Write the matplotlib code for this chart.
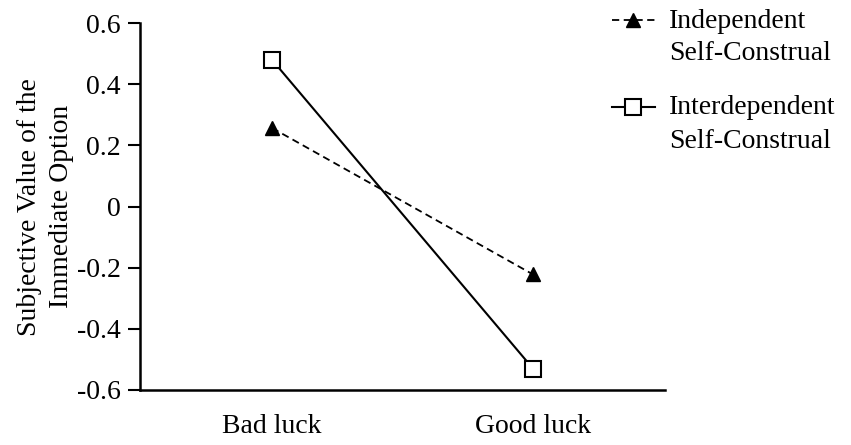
import matplotlib
matplotlib.use("Agg")
import matplotlib.pyplot as plt
from matplotlib.lines import Line2D

categories = ["Bad luck", "Good luck"]
independent = [0.257, -0.222]
interdependent = [0.48, -0.53]
yticks = [-0.6, -0.4, -0.2, 0, 0.2, 0.4, 0.6]
yticklabels = ["-0.6", "-0.4", "-0.2", "0", "0.2", "0.4", "0.6"]
legend_labels = ["Independent\nSelf-Construal", "Interdependent\nSelf-Construal"]

plt.rcParams['font.family'] = ['Liberation Serif', 'DejaVu Serif']
FS = 20

fig = plt.figure(figsize=(8.51, 4.45), dpi=100)
ax = fig.add_axes([0.1645, 0.1236, 0.617, 0.8244])

dash = (0, (4, 2.5))
x = list(range(len(categories)))
ax.plot(x, independent, linestyle=dash, color='black', lw=1.3,
        marker='^', markersize=9.5, markerfacecolor='black', markeredgecolor='black')
ax.plot(x, interdependent, linestyle='-', color='black', lw=1.5,
        marker='s', markersize=12, markerfacecolor='white', markeredgecolor='black',
        markeredgewidth=1.5)

ax.set_xlim(-0.506, 1.506)
ax.set_ylim(-0.6, 0.6)
ax.set_yticks(yticks)
ax.set_yticklabels(yticklabels, fontsize=FS)
ax.set_xticks(x)
ax.set_xticklabels(categories, fontsize=FS)
ax.tick_params(axis='x', length=0, pad=17)
ax.tick_params(axis='y', length=9, width=1.5, direction='out', pad=5)
for s in ['top', 'right']:
    ax.spines[s].set_visible(False)
for s in ['left', 'bottom']:
    ax.spines[s].set_linewidth(1.8)
ax.set_ylabel("Subjective Value of the\nImmediate Option", fontsize=FS, linespacing=1.35, labelpad=2)

# manual legend (handles aligned with first text line)
W, H = 851.0, 445.0
def fx(px): return px / W
def fy(py): return 1 - py / H

entries = [
    dict(y=20, ls=dash, lw=1.3, marker='^', ms=9.5, mfc='black', mew=1.0),
    dict(y=107, ls='-', lw=1.5, marker='s', ms=12, mfc='white', mew=1.5),
]
for e, lab in zip(entries, legend_labels):
    fig.add_artist(Line2D([fx(612), fx(655)], [fy(e['y'])] * 2, transform=fig.transFigure,
                          color='black', lw=e['lw'], linestyle=e['ls']))
    fig.add_artist(Line2D([fx(633)], [fy(e['y'])], transform=fig.transFigure,
                          color='black', linestyle='none', marker=e['marker'], markersize=e['ms'],
                          markerfacecolor=e['mfc'], markeredgecolor='black', markeredgewidth=e['mew']))
    l1, l2 = lab.split("\n")
    fig.text(fx(669), fy(e['y'] + 1), l1, fontsize=FS, ha='left', va='center')
    fig.text(fx(669), fy(e['y'] + 34), l2, fontsize=FS, ha='left', va='center')

fig.savefig("out.png", dpi=100)
